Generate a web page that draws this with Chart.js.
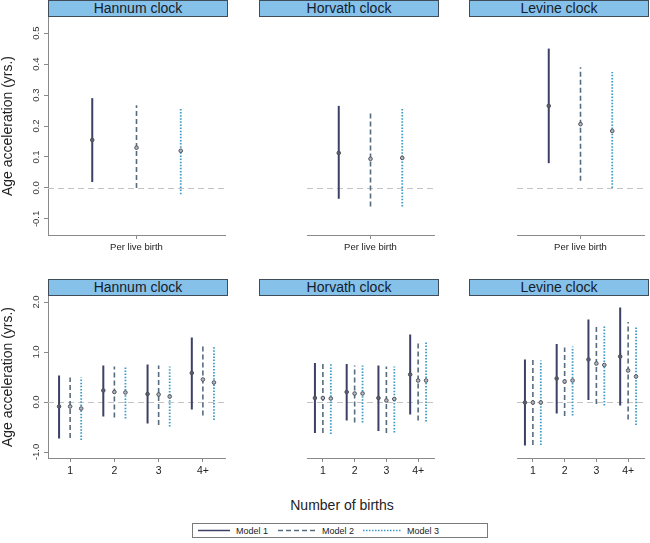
<!DOCTYPE html>
<html>
<head>
<meta charset="utf-8">
<script src="https://cdn.jsdelivr.net/npm/chart.js@4.4.1/dist/chart.umd.min.js"></script>
<style>
  body { margin: 0; background: #fff; font-family: "Liberation Sans", Arial, sans-serif; }
  #wrap { position: relative; width: 650px; height: 543px; overflow: hidden; background: #fff; }
  canvas { position: absolute; }
  .hdr { position: absolute; box-sizing: border-box; height: 17px; width: 180px;
         background: #86c1ea; border: 1px solid #3f4c59; color: #14202c;
         font-size: 14px; line-height: 15px; text-align: center; z-index: 2; }
  #xtitle { position: absolute; left: 242px; width: 200px; top: 497px; text-align: center;
            font-size: 14px; color: #222; }
  #legend { position: absolute; left: 192px; top: 523px; }
</style>
</head>
<body>
<div id="wrap">
  <canvas id="c0" width="230" height="260" style="left:0;top:0"></canvas>
  <canvas id="c1" width="180" height="260" style="left:259px;top:0"></canvas>
  <canvas id="c2" width="180" height="260" style="left:469px;top:0"></canvas>
  <canvas id="c3" width="230" height="218" style="left:0;top:262px"></canvas>
  <canvas id="c4" width="180" height="218" style="left:259px;top:262px"></canvas>
  <canvas id="c5" width="180" height="218" style="left:469px;top:262px"></canvas>
  <div id="headers"></div>
  <div id="xtitle">Number of births</div>
  <svg id="legend" width="296" height="15">
    <rect x="0.5" y="0.5" width="295" height="14" fill="#fff" stroke="#7a7a7a"/>
    <line x1="6" y1="7.5" x2="38" y2="7.5" stroke="#3c4066" stroke-width="1.5"/>
    <text x="44" y="11" font-size="9" fill="#222" font-family="Liberation Sans, Arial">Model 1</text>
    <line x1="86" y1="7.5" x2="125" y2="7.5" stroke="#566b7c" stroke-width="1.3" stroke-dasharray="5,3"/>
    <text x="130" y="11" font-size="9" fill="#222" font-family="Liberation Sans, Arial">Model 2</text>
    <line x1="171" y1="7.5" x2="210" y2="7.5" stroke="#3b9bc6" stroke-width="1.3" stroke-dasharray="1.5,1.5"/>
    <text x="215" y="11" font-size="9" fill="#222" font-family="Liberation Sans, Arial">Model 3</text>
  </svg>
</div>
<script>
// ---- data ----
const clocks = ['Hannum clock', 'Horvath clock', 'Levine clock'];
const models = ['Model 1', 'Model 2', 'Model 3'];
const topCats = ['Per live birth'];
const birthCats = ['1', '2', '3', '4+'];
const topTicks = [-0.1, 0, 0.1, 0.2, 0.3, 0.4, 0.5];
const bottomTicks = [-1, 0, 1, 2];
const yTitle = 'Age acceleration (yrs.)';

// per live birth: [clock][model]
const topEst  = [[0.155, 0.13, 0.12], [0.113, 0.094, 0.097], [0.265, 0.206, 0.184]];
const topLow  = [[0.019, 0.0, -0.02], [-0.035, -0.06, -0.06], [0.08, 0.023, 0.0]];
const topHigh = [[0.29, 0.267, 0.26], [0.265, 0.242, 0.255], [0.45, 0.39, 0.374]];

// number of births: [clock][model][category]
const botEst = [
  [[-0.09, 0.23, 0.16, 0.58], [-0.09, 0.20, 0.15, 0.45], [-0.13, 0.19, 0.11, 0.39]],
  [[0.08, 0.20, 0.08, 0.55], [0.08, 0.17, 0.03, 0.43], [0.07, 0.17, 0.06, 0.43]],
  [[-0.01, 0.47, 0.85, 0.91], [-0.01, 0.41, 0.77, 0.63], [-0.01, 0.43, 0.74, 0.51]],
];
const botLow = [
  [[-0.73, -0.29, -0.43, -0.15], [-0.72, -0.31, -0.46, -0.27], [-0.76, -0.33, -0.49, -0.36]],
  [[-0.62, -0.37, -0.58, -0.25], [-0.62, -0.41, -0.62, -0.37], [-0.64, -0.41, -0.61, -0.39]],
  [[-0.87, -0.23, 0.04, -0.07], [-0.86, -0.28, -0.04, -0.35], [-0.86, -0.27, -0.07, -0.46]],
];
const botHigh = [
  [[0.53, 0.73, 0.75, 1.29], [0.49, 0.71, 0.73, 1.12], [0.49, 0.71, 0.71, 1.12]],
  [[0.78, 0.76, 0.73, 1.35], [0.78, 0.73, 0.71, 1.22], [0.76, 0.73, 0.71, 1.22]],
  [[0.85, 1.16, 1.65, 1.89], [0.84, 1.09, 1.53, 1.60], [0.83, 1.11, 1.52, 1.49]],
];

// ---- styles ----
const FONT = '"Liberation Sans", Arial, sans-serif';
const modelStyle = [
  { color: '#3c4066', width: 2, dash: [] },
  { color: '#566b7c', width: 1.6, dash: [5, 3] },
  { color: '#3b9bc6', width: 1.8, dash: [1.5, 1.6] },
];
const modelOffset = [-0.25, 0, 0.25];
const axisGrey = '#8a8a8a';

const zeroLine = {
  id: 'zeroLine',
  beforeDatasetsDraw(chart) {
    const { ctx, chartArea: a, scales: { y } } = chart;
    const py = Math.round(y.getPixelForValue(0)) + 0.5;
    ctx.save();
    ctx.strokeStyle = '#c4c4c4';
    ctx.lineWidth = 1;
    ctx.setLineDash([6, 4]);
    ctx.beginPath();
    ctx.moveTo(a.left, py);
    ctx.lineTo(a.right, py);
    ctx.stroke();
    ctx.restore();
  }
};

// rotated y tick labels (reading bottom to top)
const yTickText = {
  id: 'yTickText',
  afterDraw(chart) {
    const s = chart.scales.y;
    const ctx = chart.ctx;
    ctx.save();
    ctx.font = '9.5px ' + FONT;
    ctx.fillStyle = '#333';
    ctx.textAlign = 'center';
    ctx.textBaseline = 'middle';
    s.ticks.forEach(t => {
      ctx.save();
      ctx.translate(s.right - 12, s.getPixelForValue(t.value));
      ctx.rotate(-Math.PI / 2);
      ctx.fillText(t.value.toFixed(1), 0, 0);
      ctx.restore();
    });
    ctx.restore();
  }
};

function buildDatasets(est, low, high) {
  const sets = [];
  models.forEach((name, m) => {
    const st = modelStyle[m];
    const bars = [];
    const pts = [];
    est[m].forEach((v, i) => {
      const x = i + 1 + modelOffset[m];
      bars.push({ x, y: low[m][i] }, { x, y: high[m][i] }, { x, y: null });
      pts.push({ x, y: v });
    });
    sets.push({
      label: name, data: bars, order: 2,
      borderColor: st.color, borderWidth: st.width, borderDash: st.dash,
      borderCapStyle: 'butt', pointRadius: 0, spanGaps: false, fill: false, tension: 0,
    });
    sets.push({
      label: name + ' est', data: pts, order: 1, showLine: false,
      pointRadius: 1.8, pointBorderWidth: 1,
      pointBorderColor: '#4b505c', pointBackgroundColor: m === 0 ? '#5a5f6c' : '#b4b8bf',
    });
  });
  return sets;
}

function makePanel(id, opt) {
  const el = document.getElementById(id);
  new Chart(el, {
    type: 'line',
    data: { datasets: buildDatasets(opt.est, opt.low, opt.high) },
    options: {
      responsive: false,
      animation: false,
      devicePixelRatio: 1,
      layout: { padding: { top: opt.padTop, right: opt.padRight, left: 0, bottom: 0 } },
      plugins: { legend: { display: false }, tooltip: { enabled: false } },
      scales: {
        x: {
          type: 'linear',
          min: 0.5, max: opt.cats.length + 0.5,
          afterBuildTicks: s => { s.ticks = opt.cats.map((c, i) => ({ value: i + 1 })); },
          afterFit: s => { s.height = opt.xHeight; },
          ticks: {
            autoSkip: false, maxRotation: 0, padding: 3, color: '#222',
            font: { size: opt.xFont, family: FONT },
            callback: (v, i) => opt.cats[i],
          },
          grid: { drawOnChartArea: false, drawTicks: true, tickLength: 4, color: axisGrey },
          border: { color: axisGrey, width: 1 },
        },
        y: {
          type: 'linear',
          display: opt.showY,
          min: opt.yMin, max: opt.yMax,
          afterBuildTicks: s => { s.ticks = opt.yTicks.map(v => ({ value: v })); },
          afterFit: s => { s.width = 48; },
          ticks: { display: false },
          grid: { drawOnChartArea: false, drawTicks: true, tickLength: 4, color: axisGrey },
          border: { color: axisGrey, width: 1 },
          title: {
            display: true, text: yTitle, color: '#222', padding: 0,
            font: { size: 14, family: FONT },
          },
        },
      },
    },
    plugins: opt.showY ? [zeroLine, yTickText] : [zeroLine],
  });
}

const headerBox = document.getElementById('headers');
const panelLeft = [48, 259, 469];

clocks.forEach((clock, c) => {
  [0, 279].forEach(top => {
    const d = document.createElement('div');
    d.className = 'hdr';
    d.style.left = panelLeft[c] + 'px';
    d.style.top = top + 'px';
    d.textContent = clock;
    headerBox.appendChild(d);
  });

  makePanel('c' + c, {
    est: topEst[c].map(v => [v]), low: topLow[c].map(v => [v]), high: topHigh[c].map(v => [v]),
    cats: topCats, yTicks: topTicks, yMin: -0.152, yMax: 0.552,
    showY: c === 0, padTop: 17, padRight: c === 0 ? 2 : 0, xHeight: 25, xFont: 9.5,
  });
  makePanel('c' + (c + 3), {
    est: botEst[c], low: botLow[c], high: botHigh[c],
    cats: birthCats, yTicks: bottomTicks, yMin: -1.12, yMax: 2.12,
    showY: c === 0, padTop: 34, padRight: c === 0 ? 2 : 0, xHeight: 22, xFont: 10.5,
  });
});
</script>
</body>
</html>
